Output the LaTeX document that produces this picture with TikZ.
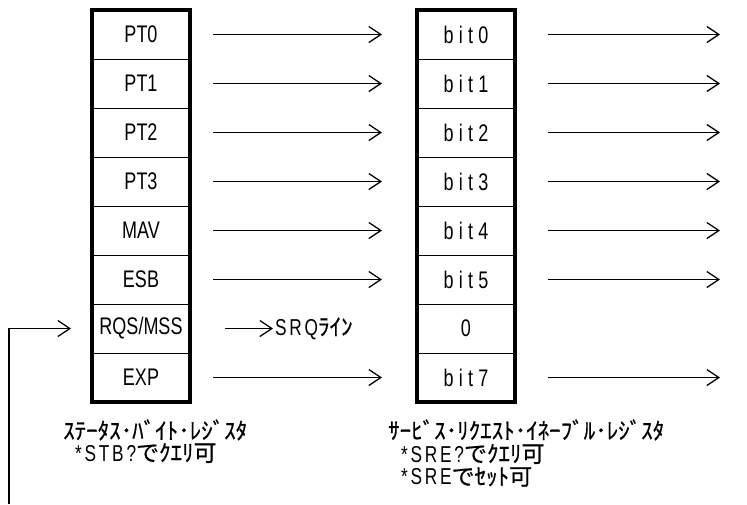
\documentclass[tikz,border=0pt]{standalone}
\usepackage{fontspec}
\usetikzlibrary{arrows.meta,positioning}
\newfontfamily\latfont[FakeStretch=0.75]{Liberation Sans}
\newfontfamily\bitfont[FakeStretch=0.75,LetterSpace=22]{Liberation Sans}
\newfontfamily\ascfont[FakeStretch=0.75,LetterSpace=12]{Liberation Sans}
\newfontfamily\jpfont[FakeBold=0.6]{Noto Sans CJK JP}
\newcommand{\asc}[1]{{\ascfont\fontsize{23}{25}\selectfont #1}}
\tikzset{regcell/.style={
    % The shape:
    rectangle,
    % The size:
    minimum width=98pt,
    minimum height=49pt,
    inner sep=0pt, outer sep=0pt,
    % The border:
    draw=black, line width=1pt,
    % Font
    font=\latfont\fontsize{24}{26}\selectfont
    },
    bitcell/.style={regcell, font=\bitfont\fontsize{24}{26}\selectfont},
    regframe/.style={draw=black, line width=4pt},
    flow/.style={-{Straight Barb[length=12pt,width=16pt]}, line width=1.3pt},
    caption/.style={
    font=\jpfont\fontsize{23}{25}\selectfont,
    inner sep=0pt, anchor=west,
    },
}

\begin{document}
\begin{tikzpicture}[x=1pt, y=1pt, node distance = 0mm and 23pt]
    \useasboundingbox (0,0) rectangle (747,-504);
    % status byte register
    \node (pt0)  [regcell] at (141,-34.5) {PT0};
    \node (pt1)  [regcell,below=of pt0]  {PT1};
    \node (pt2)  [regcell,below=of pt1]  {PT2};
    \node (pt3)  [regcell,below=of pt2]  {PT3};
    \node (mav)  [regcell,below=of pt3]  {MAV};
    \node (esb)  [regcell,below=of mav]  {ESB};
    \node (rqs)  [regcell,below=of esb]  {RQS/MSS};
    \node (exp)  [regcell,below=of rqs]  {EXP};
    \draw[regframe] (pt0.north west) rectangle (exp.south east);

    % service request enable register
    \node (b0) [bitcell] at (466,-34.5) {bit0};
    \node (b1) [bitcell,below=of b0] {bit1};
    \node (b2) [bitcell,below=of b1] {bit2};
    \node (b3) [bitcell,below=of b2] {bit3};
    \node (b4) [bitcell,below=of b3] {bit4};
    \node (b5) [bitcell,below=of b4] {bit5};
    \node (b6) [regcell,below=of b5] {0};
    \node (b7) [bitcell,below=of b6] {bit7};
    \draw[regframe] (b0.north west) rectangle (b7.south east);

    \foreach \a/\i in {pt0/0,pt1/1,pt2/2,pt3/3,mav/4,esb/5,exp/7} {
      \draw[flow] ([xshift=23pt]\a.east) -- ([xshift=-35pt]b\i.west);
      \draw[flow] ([xshift=33pt]b\i.east) -- ++(172pt,0);
    }

    \node (srq) [caption,right=85pt of rqs.east] {\asc{SRQ}ﾗｲﾝ};
    \draw[flow] ([xshift=35pt]rqs.east) -- ([xshift=-2pt]srq.west);

    \coordinate (fb) at (9,-504);
    \draw[flow] (fb) |- ([xshift=-21pt]rqs.west);

    \node (stbname) [caption] at (63,-430)  {ｽﾃｰﾀｽ･ﾊﾞｲﾄ･ﾚｼﾞｽﾀ};
    \node (stbnote) [caption] at (75,-453)  {\asc{*STB?}でｸｴﾘ可};
    \node (srename) [caption] at (388,-430) {ｻｰﾋﾞｽ･ﾘｸｴｽﾄ･ｲﾈｰﾌﾞﾙ･ﾚｼﾞｽﾀ};
    \node (srenote) [caption] at (401,-454) {\asc{*SRE?}でｸｴﾘ可};
    \node (sreset)  [caption] at (401,-477) {\asc{*SRE}でｾｯﾄ可};
\end{tikzpicture}
\end{document}
